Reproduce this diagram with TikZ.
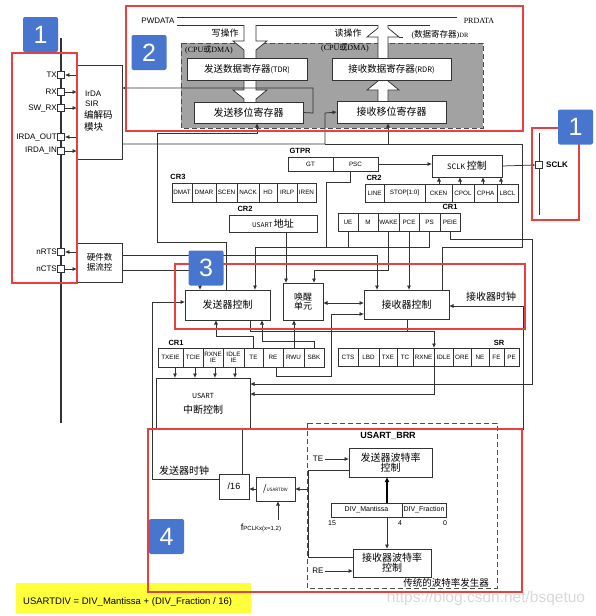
\documentclass[tikz,border=0pt]{standalone}
\usepackage{fontspec}
\setmainfont{Liberation Sans}
\newfontfamily\cjk{Noto Sans CJK SC}
\newfontfamily\srf{Liberation Serif}
\usetikzlibrary{arrows.meta}
\definecolor{redc}{RGB}{232,64,64}
\definecolor{bluec}{RGB}{72,118,206}
\definecolor{grayfill}{RGB}{162,162,162}
\definecolor{yel}{RGB}{255,255,60}
\newcommand\fs[1]{\fontsize{#1}{#1}\selectfont}
\newcommand\bx[7][]{\node[box,minimum width={(#5-#3)*1pt},minimum height={(#6-#4)*1pt},#1] (#2) at ({(#3+#5)/2},{(#4+#6)/2}) {#7};}
\newcommand\regrow[4]{\foreach \xa/\xb/\ft [count=\nn] in {#4} {\bx[fld]{#1\nn}{\xa}{#2}{\xb}{#3}{\ft}}}
\tikzset{
 ln/.style={draw=black!80, line width=0.75pt},
 ar/.style={ln, -{Latex[length=4.5pt,width=4pt]}},
 thk/.style={draw=black, line width=1.8pt, -{Latex[length=5pt,width=5pt]}},
 box/.style={draw=black!80, line width=0.75pt, fill=white, inner sep=0pt, outer sep=0pt, align=center, font=\cjk\fs{10}},
 fld/.style={box, font=\fs{6.3}},
 redbox/.style={draw=redc, line width=2.4pt},
 badge/.style={fill=bluec, rounded corners=2pt, text=white, font=\fs{25}, inner sep=0pt, minimum width=35pt, minimum height=35pt},
 pin/.style={draw=black!80, fill=white, minimum size=7pt, inner sep=0pt, line width=0.75pt},
 lbl/.style={font=\fs{8}, inner sep=0pt},
 reglbl/.style={font=\bfseries\fs{7.5}, inner sep=0pt},
 cn/.style={font=\cjk\fs{10}, inner sep=0pt, align=center},
}
\begin{document}
\begin{tikzpicture}[x=1pt,y=-1pt]
\useasboundingbox (0,0) rectangle (596,616);
\fill[white] (0,0) rectangle (596,616);

% ---------- section 2: data registers ----------
\draw[dashed, dash pattern=on 5pt off 3pt, draw=black!70, fill=grayfill, line width=0.75pt] (181,43) rectangle (483,128);
\draw[ln] (177,17) -- (457,17);
\draw[ln] (177,25) -- (244,25);
\draw[ln] (256,25) -- (378,25);
\draw[ln] (388,25) -- (430,25);
\draw[ln] (399,37) -- (403,37);
\node[lbl] (pwdata) at (158,21) {PWDATA};
\node[font=\srf\fs{8}, inner sep=0pt] (prdata) at (479,21) {PRDATA};
\node[cn, font=\cjk\fs{9}] (wop) at (225,33) {写操作};
\node[cn, font=\cjk\fs{9}] (rop) at (348,33) {读操作};
\node[inner sep=0pt] (cpu1) at (209,50) {\srf\fs{8}(CPU{\cjk 或}DMA)};
\node[inner sep=0pt] (cpu2) at (345,48) {\srf\fs{8}(CPU{\cjk 或}DMA)};
\node[inner sep=0pt] (drl) at (440,35) {\srf\fs{8}({\cjk\fs{8.5}数据寄存器}){\fs{6.5}DR}};

% hollow arrows
\fill[white] (244,25) -- (244,41) -- (233,41) -- (244,50) -- (244,58) -- (256,58) -- (256,50) -- (267,41) -- (256,41) -- (256,25) -- cycle;
\draw[ln] (244,25) -- (244,41) -- (233,41) -- (244,50) -- (244,58);
\draw[ln] (256,25) -- (256,41) -- (267,41) -- (256,50) -- (256,58);
\fill[white] (244,80) -- (244,90) -- (233,90) -- (244,99) -- (244,102) -- (256,102) -- (256,99) -- (267,90) -- (256,90) -- (256,80) -- cycle;
\draw[ln] (244,80) -- (244,90) -- (233,90) -- (244,99) -- (244,102);
\draw[ln] (256,80) -- (256,90) -- (267,90) -- (256,99) -- (256,102);
\fill[white] (378,58) -- (378,37) -- (367,37) -- (378,28) -- (378,25) -- (388,25) -- (388,28) -- (399,37) -- (388,37) -- (388,58) -- cycle;
\draw[ln] (378,58) -- (378,37) -- (367,37) -- (378,28) -- (378,25);
\draw[ln] (388,58) -- (388,37) -- (399,37) -- (388,28) -- (388,25);
\fill[white] (378,101) -- (378,90) -- (367,90) -- (378,81) -- (378,80) -- (388,80) -- (388,81) -- (399,90) -- (388,90) -- (388,101) -- cycle;
\draw[ln] (378,101) -- (378,90) -- (367,90) -- (378,81) -- (378,80);
\draw[ln] (388,101) -- (388,90) -- (399,90) -- (388,81) -- (388,80);

\bx{tdr}{187}{58}{307}{80}{{\cjk\fs{9.5}发送数据寄存器}{\fs{7.5}(TDR)}}
\bx{rdr}{332}{58}{451}{80}{{\cjk\fs{9.5}接收数据寄存器}{\fs{7.5}(RDR)}}
\bx{tsr}{194}{102}{303}{123}{发送移位寄存器}
\bx{rsr}{337}{101}{446}{123}{接收移位寄存器}

% ---------- left pins ----------
\draw[line width=1.2pt, black!80] (61,38) -- (61,423);
\bx{irda}{77}{65}{122}{159}{}
\node[lbl, anchor=west] (irda1) at (85,94) {IrDA};
\node[lbl, anchor=west] (irda2) at (85,104) {SIR};
\node[cn, anchor=west, font=\cjk\fs{9.5}] (irda3) at (84,115) {编解码};
\node[cn, anchor=west, font=\cjk\fs{9.5}] (irda4) at (84,127) {模块};
\bx[font=\cjk\fs{8.5}, align=center]{hw}{77}{243}{122}{282}{硬件数\\[1pt]据流控}
\foreach \nm/\yy/\tx in {TX/75/TX, RX/92/RX, SWRX/108/SW\_RX, IOUT/137/IRDA\_OUT, IIN/151/IRDA\_IN, RTS/252/nRTS, CTS/269/nCTS} {
  \node[pin] (p\nm) at (61,\yy) {};
  \node[lbl, anchor=east] (l\nm) at (57,\yy) {\tx};
}
\draw[ar] (77,75) -- (pTX.east);
\draw[ar] (pRX.east) -- (77,92);
\draw[ar] (pSWRX.east) -- (77,108);
\draw[ar] (77,137) -- (pIOUT.east);
\draw[ar] (pIIN.east) -- (77,151);
\draw[ar] (77,252) -- (pRTS.east);
\draw[ar] (pCTS.east) -- (77,269);

% IrDA connections
\draw[ar] (tsr.east) -- (313,113) -- (313,88) -- (122,88);
\draw[ar] (122,144) -- (325,144) -- (325,113) -- (rsr.west);
\draw[ln] (325,144) -- (388,144);
\draw[ar] (442,290) -- (442,247) -- (522,247) -- (522,144) -- (388,144) -- (388,123);
\draw[ar] (226,290) -- (226,242) -- (157,242) -- (157,133) -- (257,133) -- (257,123);

% ---------- registers ----------
\node[reglbl] (cr3l) at (178,177) {CR3};
\regrow{cr3}{183}{202}{172/192/DMAT,192/216/DMAR,216/237/SCEN,237/259/NACK,259/277/HD,277/297/IRLP,297/316/IREN}
\node[reglbl] (cr2l) at (245,209) {CR2};
\bx{addr}{229}{215}{317}{232}{{\fs{6.5}USART }地址}
\node[reglbl] (gtprl) at (300,151) {GTPR};
\regrow{gtpr}{157}{171}{288/333/GT,333/378/PSC}
\node[reglbl] (cr2rl) at (374,178) {CR2};
\regrow{cr2r}{184}{202}{365/384/LINE,384/425/{STOP[1:0]},425/452/CKEN,452/474/CPOL,474/497/CPHA,497/518/LBCL}
\node[reglbl] (cr1rl) at (450,207) {CR1};
\regrow{cr1r}{213}{231}{338/358/UE,358/378/M,378/399/WAKE,399/419/PCE,419/440/PS,440/460/PEIE}
\bx{sclk}{432}{155}{502}{177}{{\fs{7.5}SCLK }控制}
\draw[ar] (gtpr2.east) -- (sclk.west |- gtpr2.east);
\foreach \xx in {439,460,483,501} \draw[ar] (\xx,184) -- (\xx,177);

% SCLK pin
\draw[ln] (539,133) -- (539,215);
\draw[ar] (sclk.east) -- (535.5,165);
\node[pin] (pSCLK) at (539,165) {};
\node[reglbl, font=\bfseries\fs{8}, anchor=west] (lSCLK) at (546,165) {SCLK};

% ---------- control units ----------
\bx{txc}{185}{290}{270}{320}{发送器控制}
\bx[font=\cjk\fs{9}]{wake}{283}{283}{323}{320}{唤醒\\单元}
\bx{rxc}{364}{290}{449}{319}{接收器控制}

\draw[ln] (350,171) -- (350,182) -- (326,182) -- (326,247);
\draw[ar] (429,231) -- (429,247) -- (255,247) -- (255,290);
\draw[ln] (348,231) -- (348,247);
\draw[ar] (122,255) -- (377,255) -- (377,290);
\draw[ar] (286,232) -- (286,283);
\draw[ar] (388,231) -- (388,270) -- (314,270) -- (314,283);
\draw[ar] (409,231) -- (409,290);
\draw[ar] (122,270) -- (200,270) -- (200,290);
\draw[ln, {Latex[length=4.5pt,width=4pt]}-{Latex[length=4.5pt,width=4pt]}] (323,303) -- (364,303);
\draw[ar] (523,430) -- (523,306) -- (449,306);
\node[cn] (rxclk) at (491,297) {接收器时钟};

% ---------- CR1 / SR ----------
\node[reglbl] (cr1l) at (176,343) {CR1};
\regrow{cr1}{348}{367}{158/183/TXEIE,183/203/TCIE,203/223/{RXNE\\IE},223/244/{IDLE\\IE},244/263/TE,263/283/RE,283/304/RWU,304/324/SBK}
\node[reglbl] (srl) at (499,343) {SR};
\regrow{sr}{348}{366}{338/358/CTS,358/379/LBD,379/397/TXE,397/413/TC,413/434/RXNE,434/453/IDLE,453/471/ORE,471/489/NE,489/504/FE,504/519/PE}
\bx[align=center]{intc}{156}{378}{250}{429}{{\fs{7}USART}\\[5pt]中断控制}

\draw[ar] (250,320) -- (250,331) -- (434,331) -- (434,348);
\draw[ln] (407,319) -- (407,331);
\draw[ar] (434,366) -- (434,394) -- (250,394);
\draw[ar] (450,231) -- (450,239) -- (532,239) -- (532,384) -- (250,384);
\draw[ar] (253,348) -- (253,336) -- (216,336) -- (216,320);
\draw[ar] (314,348) -- (314,341) -- (262,341) -- (262,320);
\draw[ar] (294,348) -- (294,320);
\draw[ar] (276,367) -- (276,376) -- (331,376) -- (331,314) -- (364,314);
\foreach \xx in {175,195,215,235} \draw[ar] (\xx,367) -- (\xx,378);

% ---------- baud rate ----------
\draw[dashed, dash pattern=on 5pt off 3pt, draw=black!70, line width=0.75pt] (307,423) rectangle (497,588);
\node[reglbl, font=\bfseries\fs{9}] (brrl) at (388,436) {USART\_BRR};
\bx[font=\cjk\fs{10}, align=center]{tbr}{349}{448}{432}{477}{发送器波特率\\控制}
\bx[font=\cjk\fs{10}, align=center]{rbr}{353}{549}{431}{577}{接收器波特率\\控制}
\bx[font=\fs{7}]{mant}{331}{503}{402}{517}{DIV\_Mantissa}
\bx[font=\fs{7}]{frac}{402}{503}{446}{517}{DIV\_Fraction}
\node[lbl, font=\fs{7}] (b15) at (332,523) {15};
\node[lbl, font=\fs{7}] (b4) at (400,523) {4};
\node[lbl, font=\fs{7}] (b0) at (445,523) {0};
\draw[thk] (387,503) -- (387,477);
\draw[ar] (387,517) -- (387,549);
\node[lbl] (tel) at (318,459) {TE};
\draw[ar] (325,459) -- (349,459);
\node[lbl] (rel) at (318,571) {RE};
\draw[ar] (325,571) -- (353,571);
\node[cn, font=\cjk\fs{9.5}] (trad) at (446,583) {传统的波特率发生器};
\draw[ln] (349,470) -- (308,470) -- (308,557) -- (353,557);

\bx[font=\fs{9}]{d16}{219}{474}{249}{499}{/16}
\bx{udiv}{256}{477}{295}{501}{{\fs{9}/}{\fs{4.5}USARTDIV}}
\draw[ar] (308,489) -- (udiv.east);
\draw[ar] (udiv.west) -- (d16.east |- udiv.west);
\draw[ar] (219,479) -- (152,479) -- (152,302) -- (185,302);
\draw[ln] (242,474) -- (242,429);
\node[cn] (txclk) at (184,471) {发送器时钟};
\node[inner sep=0pt] (fpclk) at (261,528) {\fs{9}f{\fs{6}PCLKx(x=1,2)}};
\draw[ar] (278,520) -- (278,501);

% ---------- formula and watermark ----------
\fill[yel] (16,583) rectangle (251,613);
\node[anchor=west, inner sep=0pt, font=\fs{9.5}] (formula) at (23,602) {USARTDIV = DIV\_Mantissa + (DIV\_Fraction / 16)};
\node[inner sep=0pt, font=\fs{15.5}, text=black!15] (wm) at (486,598) {https://blog.csdn.net/bsqetuo};

% ---------- red boxes and badges ----------
\draw[redbox] (12,53) rectangle (77,283);
\draw[redbox] (126,6) rectangle (523,131);
\draw[redbox] (532,128) rectangle (579,220);
\draw[redbox] (175,264) rectangle (525,329);
\draw[redbox] (148,429) rectangle (522,592);
\node[badge] (bd1) at (40.5,34.5) {1};
\node[badge] (bd2) at (149,52.5) {2};
\node[badge] (bd1r) at (575.5,127) {1};
\node[badge] (bd3) at (206,268) {3};
\node[badge] (bd4) at (166.5,536.5) {4};
\end{tikzpicture}
\end{document}
